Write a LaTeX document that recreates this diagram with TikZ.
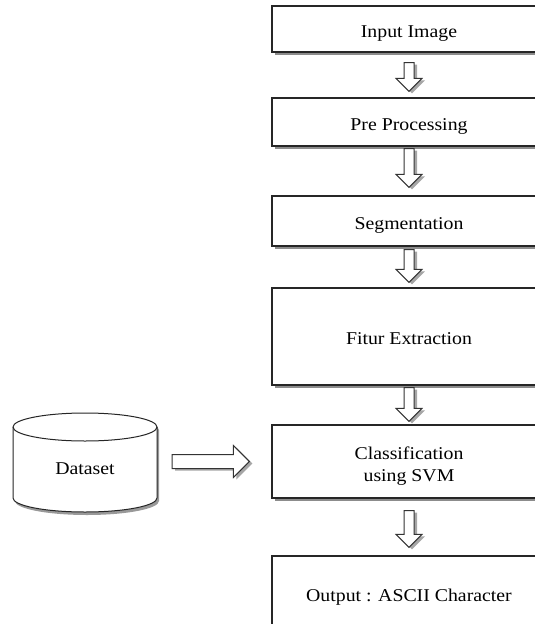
\documentclass[tikz,border=0pt]{standalone}
\usepackage{fontspec}
\setmainfont{Liberation Serif}[FakeStretch=1.1]
\usetikzlibrary{calc,shadows}

\tikzset{
  stepbox/.style={draw=black!85, line width=1.2pt, fill=white,
    minimum width=274pt, inner sep=0pt, align=center,
    font=\fontsize{18}{22}\selectfont,
    drop shadow={shadow xshift=3pt, shadow yshift=-3pt, fill=black!45, opacity=1}},
  oneline/.style={text height=16pt, text depth=0pt},
  blockarrow/.style={draw=black!80, line width=1pt, fill=white, line join=miter,
    drop shadow={shadow xshift=3pt, shadow yshift=-2pt, fill=black!35, opacity=1}},
  cylbody/.style={draw=black!85, line width=1pt, fill=white,
    drop shadow={shadow xshift=2pt, shadow yshift=-3pt, fill=black!40, opacity=1}},
  cylline/.style={draw=black!85, line width=1pt},
  labeltext/.style={font=\fontsize{18}{22}\selectfont, inner sep=0pt},
}

% hollow downward block arrow between two boxes: from, to, top gap, bottom gap
\newcommand\downblock[4]{%
  \draw[blockarrow] let \p1=(#1.south), \p2=(#2.north) in
    (\x1-5pt,\y1-#3pt) -- (\x1+5pt,\y1-#3pt) -- (\x1+5pt,\y2+#4pt+13pt)
    -- (\x1+13pt,\y2+#4pt+13pt) -- (\x1,\y2+#4pt) -- (\x1-13pt,\y2+#4pt+13pt)
    -- (\x1-5pt,\y2+#4pt+13pt) -- cycle;}

\begin{document}
\begin{tikzpicture}[x=1pt, y=-1pt]
  \useasboundingbox (0,0) rectangle (535,624);
  \clip (0,0) rectangle (535,624);

  % processing chain
  \node[stepbox, oneline, minimum height=46pt] (b1) at (409,29) {Input Image};
  \node[stepbox, oneline, minimum height=48pt] (b2) at (409,122) {Pre Processing};
  \node[stepbox, oneline, minimum height=50pt] (b3) at (409,221) {Segmentation};
  \node[stepbox, oneline, minimum height=97pt] (b4) at (409,336.5) {Fitur Extraction};
  \node[stepbox, minimum height=73pt] (b5)
    at (409,461.5) {\rule{0pt}{22pt}Classification\\using SVM};
  \node[stepbox, oneline, minimum height=74pt] (b6) at (409,593) {Output : ASCII Character};

  \downblock{b1}{b2}{10}{6}
  \downblock{b2}{b3}{2}{8}
  \downblock{b3}{b4}{3}{5}
  \downblock{b4}{b5}{2}{3}
  \downblock{b5}{b6}{12}{8}

  % dataset cylinder
  \draw[cylbody] (13,427) -- (13,498)
    .. controls (13,505.7) and (45.2,512) .. (85,512)
    .. controls (124.8,512) and (157,505.7) .. (157,498)
    -- (157,427)
    .. controls (157,419.3) and (124.8,413) .. (85,413)
    .. controls (45.2,413) and (13,419.3) .. (13,427) -- cycle;
  \draw[cylline] (13,427)
    .. controls (13,434.7) and (45.2,441) .. (85,441)
    .. controls (124.8,441) and (157,434.7) .. (157,427);
  \node[labeltext, minimum width=144pt, minimum height=99pt] (ds) at (85,469) {Dataset};

  % dataset feeds the classifier
  \draw[blockarrow] let \p1=(ds.east), \p2=(b5.west) in
    (\x1+15pt,\y2+7pt) -- (\x2-38pt,\y2+7pt) -- (\x2-38pt,\y2+16pt)
    -- (\x2-22pt,\y2) -- (\x2-38pt,\y2-16pt) -- (\x2-38pt,\y2-7pt)
    -- (\x1+15pt,\y2-7pt) -- cycle;
\end{tikzpicture}
\end{document}
